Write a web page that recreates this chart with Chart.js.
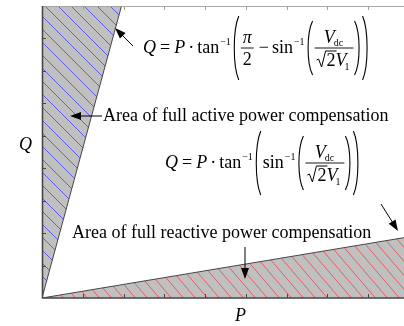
<!DOCTYPE html>
<html>
<head>
<meta charset="utf-8">
<script src="https://cdn.jsdelivr.net/npm/chart.js@4/dist/chart.umd.min.js"></script>
<style>
  html, body { margin: 0; padding: 0; background: #fff; }
  #wrap { width: 404px; height: 326px; }
</style>
</head>
<body>
<div id="wrap"><canvas id="pq"></canvas></div>
<script>
// boundary lines of the two compensation regions (P on x, Q on y)
var activeLimitP = [0, 1.95];
var activeLimitQ = [0, 9];
var reactiveLimitP = [0, 8.88];
var reactiveLimitQ = [0, 1.86];
var tickValues = [1, 2, 3, 4, 5, 6, 7, 8];
var axisMax = {p: 8.88, q: 9};

var activeLabel = 'Area of full active power compensation';
var reactiveLabel = 'Area of full reactive power compensation';

var serif = '"Liberation Serif", "Times New Roman", serif';
var grayFill = 'rgb(192, 192, 192)';
var edgeColor = 'rgb(70, 70, 70)';

function toPoints(xs, ys) {
    var pts = [];
    for (var i = 0; i < xs.length; i++) {
        pts.push({x: xs[i], y: ys[i]});
    }
    return pts;
}

// gray tile with one diagonal stroke, repeated as a hatch
function hatch(color, w, h) {
    var c = document.createElement('canvas');
    c.width = w;
    c.height = h;
    var g = c.getContext('2d');
    g.fillStyle = grayFill;
    g.fillRect(0, 0, w, h);
    g.strokeStyle = color;
    g.lineWidth = 0.9;
    g.beginPath();
    g.moveTo(-w, -h);
    g.lineTo(2 * w, 2 * h);
    g.stroke();
    return g.createPattern(c, 'repeat');
}

function font(size, italic) {
    return (italic ? 'italic ' : '') + size + 'px ' + serif;
}

function put(ctx, s, x, y, size, italic) {
    ctx.font = font(size, italic);
    ctx.fillText(s, x, y);
    return x + ctx.measureText(s).width;
}

function width(ctx, s, size, italic) {
    ctx.font = font(size, italic);
    return ctx.measureText(s).width;
}

function paren(ctx, x, top, bottom, open) {
    var w = 6, h = bottom - top;
    ctx.beginPath();
    if (open) {
        ctx.moveTo(x + w, top);
        ctx.bezierCurveTo(x, top + h * 0.22, x, bottom - h * 0.22, x + w, bottom);
    } else {
        ctx.moveTo(x, top);
        ctx.bezierCurveTo(x + w, top + h * 0.22, x + w, bottom - h * 0.22, x, bottom);
    }
    ctx.lineWidth = 1.1;
    ctx.stroke();
    return x + w + 2;
}

function hline(ctx, x1, x2, y) {
    ctx.beginPath();
    ctx.moveTo(x1, y);
    ctx.lineTo(x2, y);
    ctx.lineWidth = 0.9;
    ctx.stroke();
}

// "Q = P · tan^-1"
function eqHead(ctx, x, base) {
    x = put(ctx, 'Q', x, base, 18, true) + 4;
    x = put(ctx, '=', x, base, 18) + 4;
    x = put(ctx, 'P', x, base, 18, true) + 3;
    x = put(ctx, '·', x, base, 18) + 3;
    x = put(ctx, 'tan', x, base, 18);
    x = put(ctx, '−1', x + 1, base - 8, 10) + 2;
    return x;
}

function sinInv(ctx, x, base) {
    x = put(ctx, 'sin', x, base, 18);
    return put(ctx, '−1', x + 1, base - 8, 10) + 2;
}

function piHalf(ctx, x, base) {
    var axis = base - 5;
    var wPi = width(ctx, 'π', 18, true), w2 = width(ctx, '2', 18);
    var W = Math.max(wPi, w2) + 4;
    put(ctx, 'π', x + (W - wPi) / 2, axis - 5, 18, true);
    hline(ctx, x, x + W, axis);
    put(ctx, '2', x + (W - w2) / 2, axis + 17, 18);
    return x + W + 2;
}

// V_dc over sqrt(2) V_1
function vFrac(ctx, x, base) {
    var axis = base - 5;
    var wV = width(ctx, 'V', 18, true);
    var wdc = width(ctx, 'dc', 10);
    var w1 = width(ctx, '1', 10);
    var w2 = width(ctx, '2', 18);
    var numW = wV + wdc;
    var denW = 10 + w2 + wV + w1;
    var W = Math.max(numW, denW) + 4;

    var nx = x + (W - numW) / 2;
    nx = put(ctx, 'V', nx, axis - 5, 18, true);
    put(ctx, 'dc', nx - 1, axis - 2, 10);
    hline(ctx, x, x + W, axis);

    var dx = x + (W - denW) / 2, db = axis + 18;
    ctx.beginPath();
    ctx.moveTo(dx, db - 6);
    ctx.lineTo(dx + 2, db - 7);
    ctx.lineTo(dx + 5, db + 1);
    ctx.lineTo(dx + 9, db - 15);
    ctx.lineTo(dx + 10 + w2 + 1, db - 15);
    ctx.lineWidth = 1;
    ctx.stroke();
    var cx = put(ctx, '2', dx + 10, db, 18);
    cx = put(ctx, 'V', cx, db, 18, true);
    put(ctx, '1', cx - 2, db + 4, 10);
    return x + W + 1;
}

function arrow(ctx, x1, y1, x2, y2) {
    var a = Math.atan2(y2 - y1, x2 - x1), len = 11, half = 4;
    ctx.beginPath();
    ctx.moveTo(x1, y1);
    ctx.lineTo(x2 - Math.cos(a) * len * 0.8, y2 - Math.sin(a) * len * 0.8);
    ctx.lineWidth = 1;
    ctx.stroke();
    ctx.beginPath();
    ctx.moveTo(x2, y2);
    ctx.lineTo(x2 - Math.cos(a) * len - Math.sin(a) * half, y2 - Math.sin(a) * len + Math.cos(a) * half);
    ctx.lineTo(x2 - Math.cos(a) * len + Math.sin(a) * half, y2 - Math.sin(a) * len - Math.cos(a) * half);
    ctx.closePath();
    ctx.fill();
}

var frame = {
    id: 'frame',
    afterDatasetsDraw: function (chart) {
        var ctx = chart.ctx, a = chart.chartArea;
        var sx = chart.scales.x, sy = chart.scales.y;
        ctx.save();

        // top border
        ctx.strokeStyle = 'rgb(160, 160, 160)';
        ctx.lineWidth = 1;
        hline(ctx, a.left, a.right, a.top + 0.5);

        // axes
        ctx.strokeStyle = edgeColor;
        ctx.lineWidth = 1.6;
        ctx.beginPath();
        ctx.moveTo(a.left + 0.5, a.top);
        ctx.lineTo(a.left + 0.5, a.bottom);
        ctx.lineTo(a.right, a.bottom);
        ctx.stroke();

        // inward ticks
        ctx.lineWidth = 1;
        tickValues.forEach(function (v) {
            var px = Math.round(sx.getPixelForValue(v)) + 0.5;
            var py = Math.round(sy.getPixelForValue(v)) + 0.5;
            ctx.strokeStyle = edgeColor;
            ctx.beginPath();
            ctx.moveTo(px, a.bottom);
            ctx.lineTo(px, a.bottom - 4);
            ctx.moveTo(a.left, py);
            ctx.lineTo(a.left + 4, py);
            ctx.stroke();
            ctx.strokeStyle = 'rgb(160, 160, 160)';
            ctx.beginPath();
            ctx.moveTo(px, a.top);
            ctx.lineTo(px, a.top + 4);
            ctx.stroke();
        });

        ctx.fillStyle = '#000';
        ctx.strokeStyle = '#000';
        ctx.textBaseline = 'alphabetic';

        // axis names
        put(ctx, 'Q', 19, 150, 18, true);
        put(ctx, 'P', 235, 321, 18, true);

        // upper limit formula
        var b1 = 53, axis1 = b1 - 5;
        var x = eqHead(ctx, 143, b1);
        x = paren(ctx, x, axis1 - 32, axis1 + 32, true);
        x = piHalf(ctx, x, b1) + 3;
        x = put(ctx, '−', x, b1, 18) + 3;
        x = sinInv(ctx, x, b1);
        x = paren(ctx, x, axis1 - 27, axis1 + 27, true);
        x = vFrac(ctx, x, b1);
        x = paren(ctx, x, axis1 - 27, axis1 + 27, false);
        paren(ctx, x, axis1 - 32, axis1 + 32, false);

        // lower limit formula
        var b2 = 168, axis2 = b2 - 5;
        x = eqHead(ctx, 165, b2);
        x = paren(ctx, x, axis2 - 32, axis2 + 32, true);
        x = sinInv(ctx, x, b2);
        x = paren(ctx, x, axis2 - 27, axis2 + 27, true);
        x = vFrac(ctx, x, b2);
        x = paren(ctx, x, axis2 - 27, axis2 + 27, false);
        paren(ctx, x, axis2 - 32, axis2 + 32, false);

        // region captions
        put(ctx, activeLabel, 103, 121, 18);
        put(ctx, reactiveLabel, 72, 238, 18);

        // pointers
        arrow(ctx, 133, 46, 115, 28);
        arrow(ctx, 102, 116, 70, 116);
        arrow(ctx, 245, 247, 245, 279);
        arrow(ctx, 381, 204, 398, 231);

        ctx.restore();
    }
};

var ctx = document.getElementById('pq').getContext('2d');

new Chart(ctx, {
    type: 'scatter',
    data: {
        datasets: [{
            label: 'active',
            data: toPoints(activeLimitP, activeLimitQ),
            showLine: true,
            fill: 'end',
            backgroundColor: hatch('rgb(80, 80, 245)', 13, 13),
            borderColor: edgeColor,
            borderWidth: 1,
            pointRadius: 0
        }, {
            label: 'reactive',
            data: toPoints(reactiveLimitP, reactiveLimitQ),
            showLine: true,
            fill: 'origin',
            backgroundColor: hatch('rgb(240, 80, 80)', 12, 14),
            borderColor: edgeColor,
            borderWidth: 1,
            pointRadius: 0
        }]
    },
    options: {
        responsive: true,
        maintainAspectRatio: false,
        animation: false,
        events: [],
        layout: {padding: {left: 42, top: 6, right: 0, bottom: 28}},
        plugins: {legend: {display: false}, tooltip: {enabled: false}},
        scales: {
            x: {type: 'linear', min: 0, max: axisMax.p, display: false},
            y: {type: 'linear', min: 0, max: axisMax.q, display: false}
        }
    },
    plugins: [frame]
});
</script>
</body>
</html>
